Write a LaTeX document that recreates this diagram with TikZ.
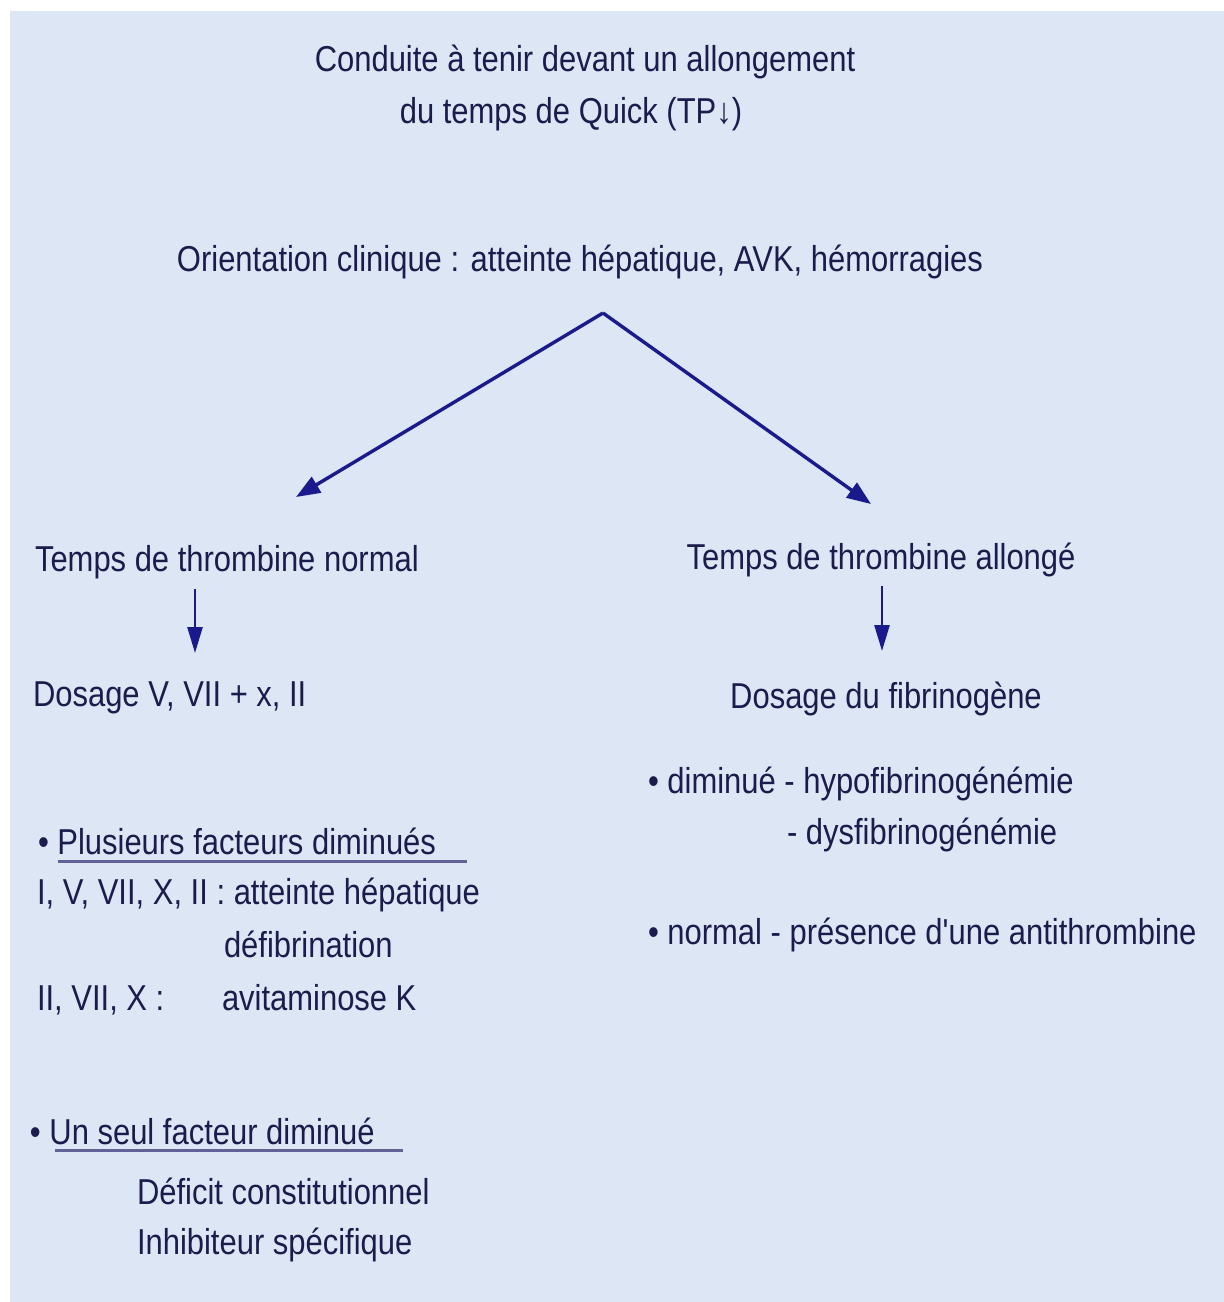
\documentclass[tikz,border=0pt]{standalone}
\usepackage{fontspec}
\setmainfont{Liberation Sans}[FakeStretch=0.86,Ligatures=TeXOff]
\usetikzlibrary{arrows.meta}

\definecolor{panel}{RGB}{220,230,244}
\definecolor{ink}{RGB}{28,28,76}
\definecolor{arrowblue}{RGB}{26,26,140}
\definecolor{rule}{RGB}{98,98,150}

\begin{document}
\begin{tikzpicture}[x=1pt,y=-1pt,
  txt/.style={inner sep=0pt,outer sep=0pt,text=ink,
    font=\fontsize{36}{42}\selectfont},
  lt/.style={txt,anchor=base west},
  ct/.style={txt,anchor=base},
  bigarrow/.style={draw=arrowblue,line width=3.4pt,line join=miter,
    -{Triangle[length=24pt,width=18pt]}},
  smallarrow/.style={draw=arrowblue,line width=2.6pt,
    -{Triangle[length=26pt,width=15pt]}},
  underline/.style={draw=rule,line width=3pt}]

  % page and panel
  \useasboundingbox (0,0) rectangle (1224,1302);
  \fill[white] (0,0) rectangle (1224,1302);
  \fill[panel] (10,11) rectangle (1224,1302);

  % heading
  \node[ct] (title1) at (585,71) {Conduite à tenir devant un allongement};
  \node[ct] (title2) at (571,123) {du temps de Quick (TP↓)};

  \node[ct] (orient) at (580,271) {Orientation clinique : atteinte hépatique, AVK, hémorragies};

  % split into the two branches
  \coordinate (apex) at (603,313);
  \coordinate (tipL) at (296,497);
  \coordinate (tipR) at (871,504);
  \draw[bigarrow] (apex) -- (tipL);
  \draw[bigarrow] (apex) -- (tipR);

  % left branch
  \node[lt] (ttn) at (35,571) {Temps de thrombine normal};
  \coordinate (aL1) at (195,589);
  \coordinate (aL2) at (195,653);
  \draw[smallarrow] (aL1) -- (aL2);
  \node[lt] (dosV) at (33,706) {Dosage V, VII + x, II};

  \node[lt] (plus) at (38,854) {• Plusieurs facteurs diminués};
  \coordinate (u1a) at (58,861);
  \coordinate (u1b) at (467,861);
  \draw[underline] (u1a) -- (u1b);
  \node[lt] (hep) at (37,904) {I, V, VII, X, II : atteinte hépatique};
  \node[lt] (defib) at (224,957) {défibrination};
  \node[lt] (vitk) at (37,1010) {II, VII, X :};
  \node[lt] (avit) at (222,1010) {avitaminose K};

  \node[lt] (seul) at (30,1144) {• Un seul facteur diminué};
  \coordinate (u2a) at (55,1150);
  \coordinate (u2b) at (403,1150);
  \draw[underline] (u2a) -- (u2b);
  \node[lt] (deficit) at (137,1204) {Déficit constitutionnel};
  \node[lt] (inhib) at (137,1254) {Inhibiteur spécifique};

  % right branch
  \node[ct] (tta) at (881,569) {Temps de thrombine allongé};
  \coordinate (aR1) at (882,586);
  \coordinate (aR2) at (882,651);
  \draw[smallarrow] (aR1) -- (aR2);
  \node[ct] (dosF) at (886,708) {Dosage du fibrinogène};

  \node[lt] (dimin) at (648,793) {• diminué - hypofibrinogénémie};
  \node[lt] (dysf) at (787,844) {- dysfibrinogénémie};
  \node[lt] (norm) at (648,944) {• normal - présence d'une antithrombine};
\end{tikzpicture}
\end{document}
